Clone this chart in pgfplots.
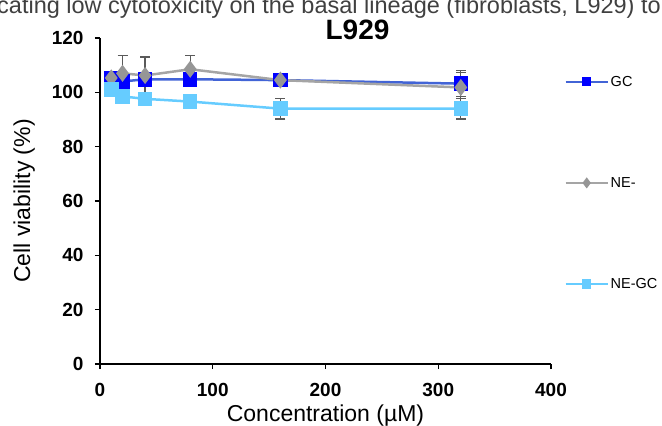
\documentclass[border=0pt]{standalone}
\usepackage{pgfplots}
\pgfplotsset{compat=1.18}
\usepackage{fontspec}
\setmainfont{Liberation Sans}
\setsansfont{Liberation Sans}

\definecolor{gcline}{RGB}{66,100,214}
\definecolor{gcmark}{RGB}{0,0,255}
\definecolor{neline}{RGB}{165,165,165}
\definecolor{nemark}{RGB}{150,150,150}
\definecolor{ngc}{RGB}{102,204,255}
\definecolor{errc}{RGB}{90,90,90}

\pgfplotsset{
    myerr/.style={
        error bars/.cd, y dir=both, y explicit, error mark=-,
        error bar style={errc, line width=1.3pt},
        error mark options={rotate=90, errc, line width=1.3pt, mark size=5pt}},
}

\begin{document}
\begin{tikzpicture}[x=1pt,y=1pt]
\useasboundingbox (-100,-62) rectangle (562,364);
\node[anchor=base west, text=black!75, inner sep=0pt, font=\fontsize{23.5}{26}\selectfont]
  at (-103,350) {cating low cytotoxicity on the basal lineage (fibroblasts, L929) to};
\begin{axis}[
    at={(0,0)}, anchor=origin,
    scale only axis,
    width=451pt, height=326pt,
    xmin=0, xmax=400, ymin=0, ymax=120,
    xtick={0,100,200,300,400},
    ytick={0,20,40,60,80,100,120},
    axis lines=left,
    axis line style={line width=1.3pt, -},
    tick style={line width=1.3pt, black},
    tick align=outside,
    major tick length=5pt,
    /pgf/number format/assume math mode=true,
    ticklabel style={font=\fontsize{19}{21}\selectfont\bfseries},
    yticklabel style={xshift=-8pt},
    xticklabel style={yshift=-11pt},
    xlabel={Concentration (µM)},
    ylabel={Cell viability (\%)},
    label style={font=\fontsize{23}{25}\selectfont},
    xlabel style={yshift=-1pt},
    ylabel style={yshift=10pt},
    title={L929},
    title style={font=\fontsize{28}{30}\selectfont\bfseries, at={(0.571,1)}, anchor=base, yshift=-8pt},
    legend cell align=left,
    legend style={draw=none, fill=none, at={(1.03,0.89)}, anchor=north west,
        font=\fontsize{14.5}{16}\selectfont, row sep=85.5pt, inner sep=0pt},
    legend image code/.code={\draw[line width=2pt, mark repeat=2, mark phase=2,
        every mark/.append style={scale=0.6}]
        plot coordinates {(0pt,0pt) (21pt,0pt) (42pt,0pt)};},
    clip=false,
]
\addplot[color=gcline, line width=2.5pt, mark=square*,
    mark options={fill=gcmark, draw=gcmark, mark size=6pt}, myerr]
  coordinates {
    (10,105.3) +- (0,2.0)
    (20,104.0) +- (0,2.5)
    (40,104.8) +- (0,2.0)
    (80,104.8) +- (0,2.0)
    (160,104.5) +- (0,1.5)
    (320,103.2) +- (0,4.8)
};
\addlegendentry{GC}
\addplot[color=neline, line width=2.5pt, mark=diamond*,
    mark options={fill=nemark, draw=nemark, mark size=6.5pt}, myerr]
  coordinates {
    (10,105.3) +- (0,1.5)
    (20,107.0) +- (0,6.5)
    (40,106.2) +- (0,6.8)
    (80,108.5) +- (0,5.0)
    (160,104.5) +- (0,1.0)
    (320,101.8) +- (0,5.5)
};
\addlegendentry{NE-}
\addplot[color=ngc, line width=2.5pt, mark=square*,
    mark options={fill=ngc, draw=ngc, mark size=6pt}, myerr]
  coordinates {
    (10,101.0) +- (0,1.0)
    (20,98.5) +- (0,1.0)
    (40,97.6) +- (0,1.0)
    (80,96.6) +- (0,1.0)
    (160,94.0) +- (0,3.8)
    (320,94.0) +- (0,3.8)
};
\addlegendentry{NE-GC}
\end{axis}
\end{tikzpicture}
\end{document}
